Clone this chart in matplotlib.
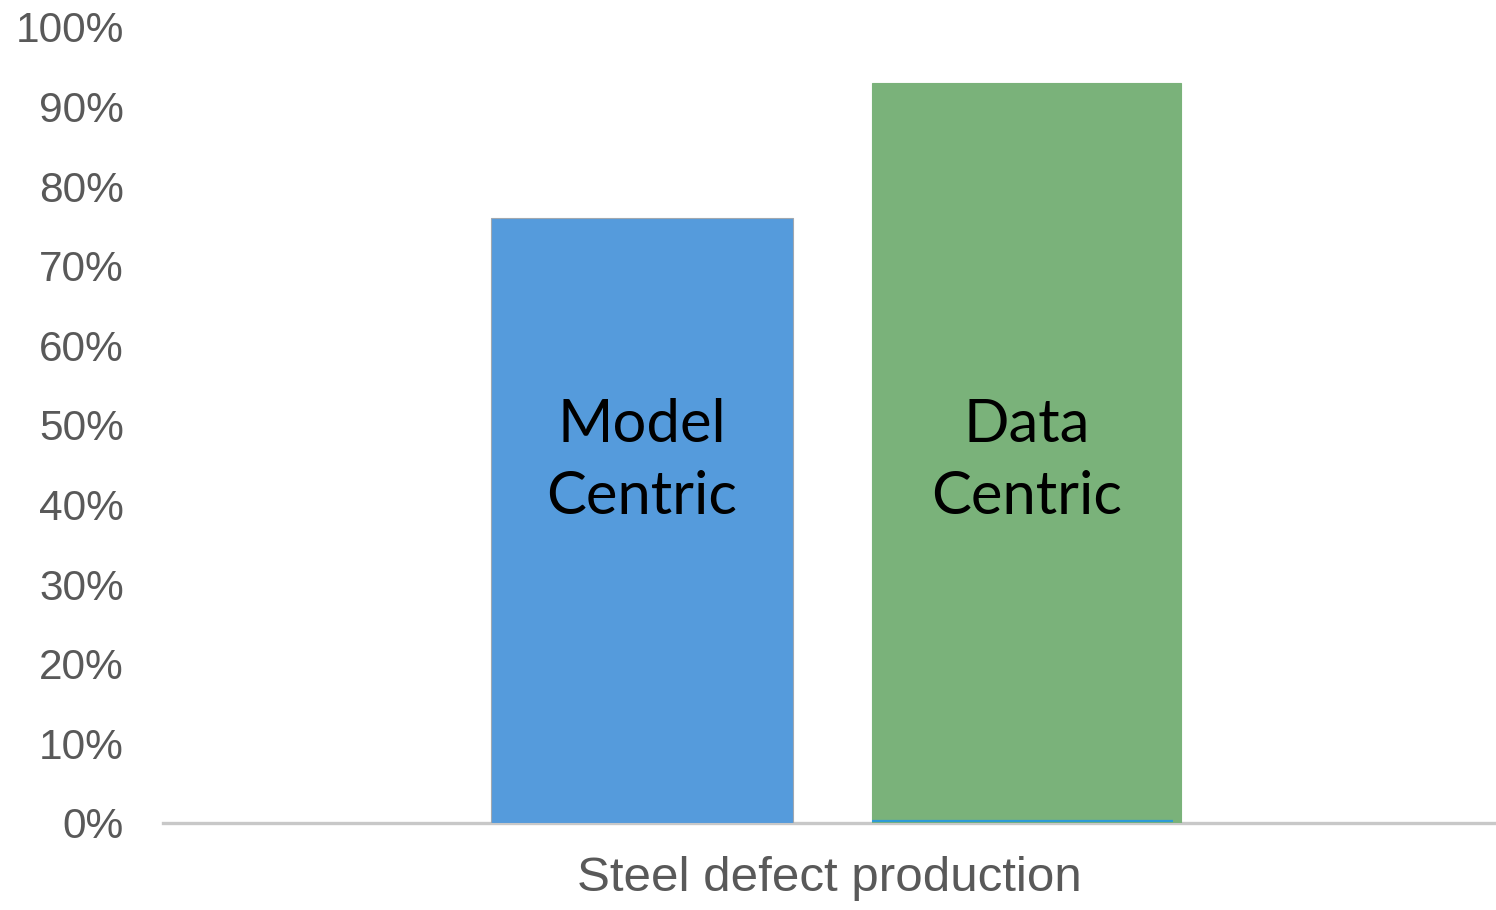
import matplotlib
matplotlib.use("Agg")
import matplotlib.pyplot as plt
from matplotlib.ticker import PercentFormatter

# Accuracy on the steel defect task for the two approaches
category = "Steel defect production"
approaches = ["Model\nCentric", "Data\nCentric"]
accuracy = [0.76, 0.93]
bar_colors = ["#559BDC", "#7AB27A"]
edge_colors = ["#A0A8B0", "#7AB27A"]
y_ticks = [i / 10 for i in range(11)]

# bar layout within the single category slot (slot spans -0.5..0.5)
bar_centers = [-0.1407, 0.1478]
bar_widths = [0.2266, 0.2318]

fig = plt.figure(figsize=(14.96, 9.10), dpi=100)
ax = fig.add_axes([163 / 1496, (910 - 823) / 910, (1496 - 163) / 1496, 796 / 910])

ax.bar(bar_centers, accuracy, width=bar_widths, color=bar_colors,
       edgecolor=edge_colors, linewidth=0.8, zorder=2)

# thin blue baseline strip under the green bar
x0 = bar_centers[1] - bar_widths[1] / 2
ax.hlines(0.002, x0, x0 + bar_widths[1] * 0.974, color="#2E9BD6", lw=1.6, zorder=3)

for xc, lab in zip(bar_centers, approaches):
    ax.text(xc, 0.455, lab, ha="center", va="center", fontsize=43,
            family="Lato", color="black", linespacing=1.42, zorder=4)

ax.set_xlim(-0.5, 0.5)
ax.set_ylim(0, 1.0)
ax.set_yticks(y_ticks)
ax.yaxis.set_major_formatter(PercentFormatter(1.0, decimals=0))
ax.set_xticks([0.0])
ax.set_xticklabels([category])

for s in ["top", "right", "left"]:
    ax.spines[s].set_visible(False)
ax.spines["bottom"].set_color("#C8C8C8")
ax.spines["bottom"].set_linewidth(2.4)
ax.spines["bottom"].set_zorder(1)

ax.tick_params(axis="y", length=0, pad=28, labelsize=30.5, labelcolor="#595959")
ax.tick_params(axis="x", length=0, pad=24, labelsize=35.5, labelcolor="#595959")
for t in ax.get_yticklabels() + ax.get_xticklabels():
    t.set_family("Liberation Sans")

ax.set_facecolor("white")
fig.patch.set_facecolor("white")
fig.savefig("out.png", dpi=100)
